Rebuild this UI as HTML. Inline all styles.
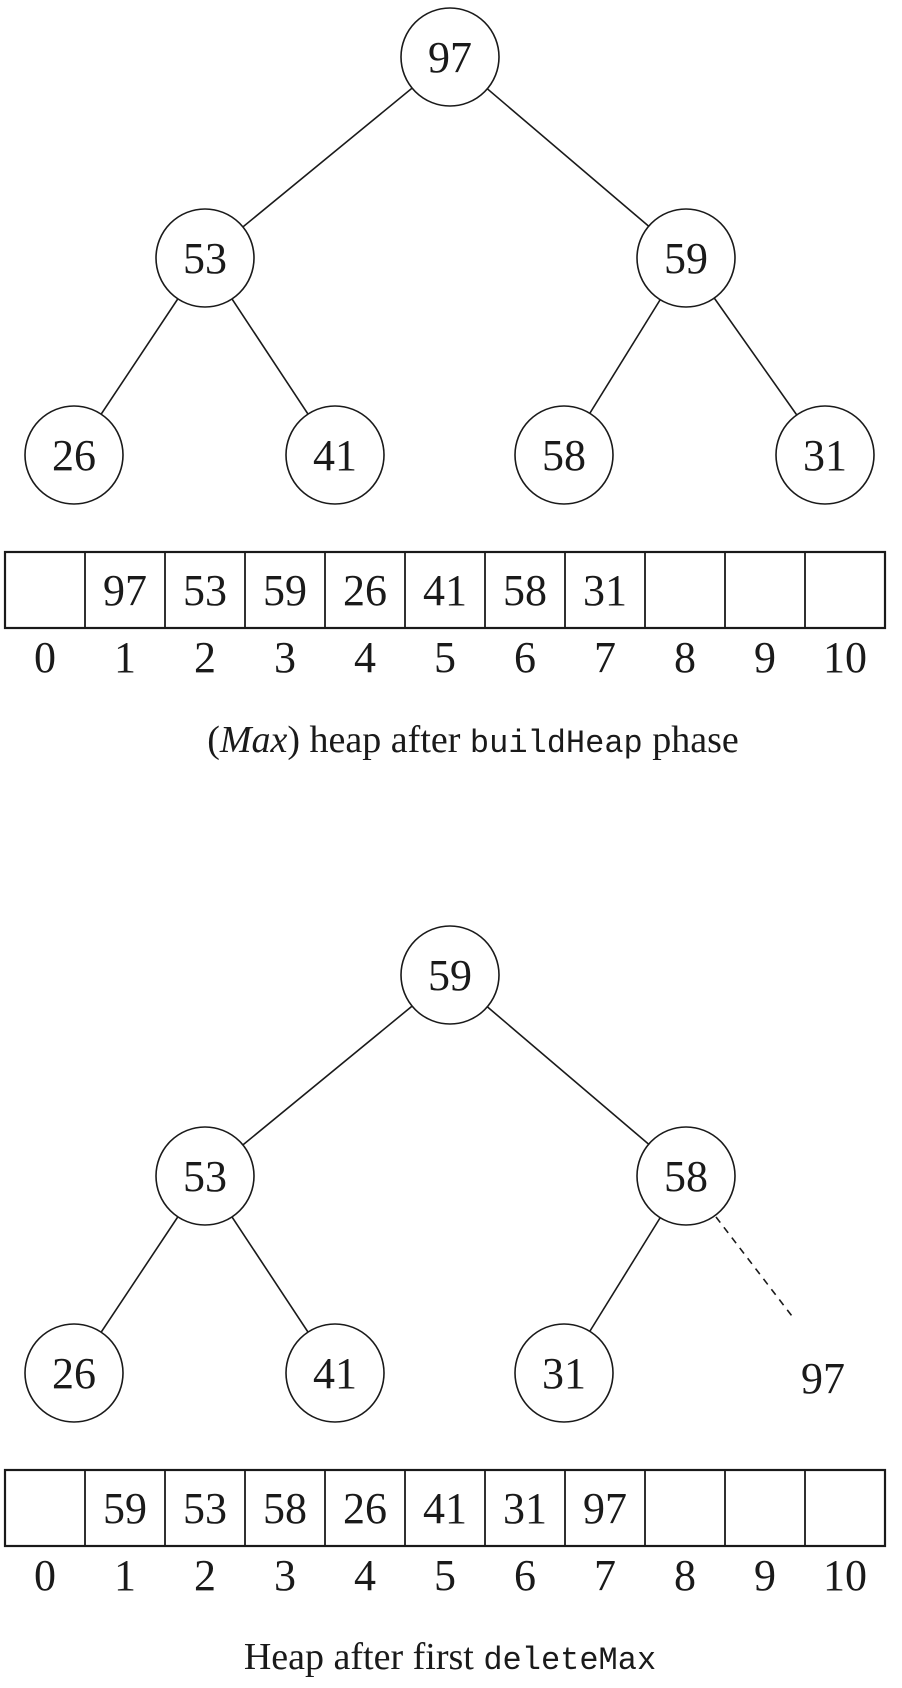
<!DOCTYPE html>
<html><head><meta charset="utf-8"><style>
html,body{margin:0;padding:0;background:#fff;}
svg{display:block;}
text{font-family:"Liberation Serif",serif;fill:#1a1a1a;}
.mono{font-family:"Liberation Mono",monospace;}
</style></head><body>
<svg id="fig" width="902" height="1688" viewBox="0 0 902 1688" xmlns="http://www.w3.org/2000/svg">
<text x="473" y="752" font-size="38" text-anchor="middle">(<tspan font-style="italic">Max</tspan>) heap after <tspan class="mono" font-size="32">buildHeap</tspan> phase</text>
<text x="450" y="1669" font-size="38" text-anchor="middle">Heap after first <tspan class="mono" font-size="32">deleteMax</tspan></text>
</svg>
<script>
const heap1 = [97, 53, 59, 26, 41, 58, 31];
const heap2 = [59, 53, 58, 26, 41, 31];
const array1 = ["", 97, 53, 59, 26, 41, 58, 31, "", "", ""];
const array2 = ["", 59, 53, 58, 26, 41, 31, 97, "", "", ""];
const indexLabels = ["0","1","2","3","4","5","6","7","8","9","10"];
const removedValue = 97;

const NS = "http://www.w3.org/2000/svg";
const svg = document.getElementById('fig');
const nodeX = [450, 205, 686, 74, 335, 564, 825];
const levelY = [57, 258, 455];
const R = 49;
function mk(tag, attrs) {
  const e = document.createElementNS(NS, tag);
  for (const k in attrs) e.setAttribute(k, attrs[k]);
  svg.appendChild(e);
  return e;
}
function lvl(i) { return i === 0 ? 0 : (i < 3 ? 1 : 2); }
function drawTree(vals, oy, prefix) {
  for (let i = 1; i < vals.length; i++) {
    const p = Math.floor((i - 1) / 2);
    const l = mk('line', {x1: nodeX[p], y1: levelY[lvl(p)] + oy, x2: nodeX[i], y2: levelY[lvl(i)] + oy, stroke: '#1a1a1a', 'stroke-width': 1.6});
    
    
  }
  vals.forEach((v, i) => {
    const cx = nodeX[i], cy = levelY[lvl(i)] + oy;
    const c = mk('circle', {cx: cx, cy: cy, r: R, fill: '#fff', stroke: '#1a1a1a', 'stroke-width': 1.6});
    
    
    const t = mk('text', {x: cx, y: cy + 15, 'font-size': 44, 'text-anchor': 'middle'});
    t.textContent = v;
    
    
  });
}
function drawArray(vals, oy, prefix) {
  const x0 = 5, w = 80, top = 552 + oy, h = 76;
  const box = mk('rect', {x: x0, y: top, width: w * vals.length, height: h, fill: 'none', stroke: '#1a1a1a', 'stroke-width': 2.2});
  
  
  vals.forEach((v, i) => {
    if (i > 0) {
      const d = mk('line', {x1: x0 + i * w, y1: top, x2: x0 + i * w, y2: top + h, stroke: '#1a1a1a', 'stroke-width': 1.8});
      
      
    }
    if (v !== "") {
      const t = mk('text', {x: x0 + i * w + w / 2, y: top + 53, 'font-size': 44, 'text-anchor': 'middle'});
      t.textContent = v;
      
      
    }
    const il = mk('text', {x: x0 + i * w + w / 2, y: top + 120, 'font-size': 44, 'text-anchor': 'middle'});
    il.textContent = indexLabels[i];
    
    
  });
}
drawTree(heap1, 0, 'top');
drawArray(array1, 0, 'top');
const OY = 918;
drawTree(heap2, OY, 'bottom');
drawArray(array2, OY, 'bottom');
const dl = mk('line', {x1: 716, y1: 1217, x2: 795, y2: 1320, stroke: '#1a1a1a', 'stroke-width': 1.6, 'stroke-dasharray': '7,6'});


const rv = mk('text', {x: 823, y: 1393, 'font-size': 44, 'text-anchor': 'middle'});
rv.textContent = removedValue;


</script>
</body></html>
